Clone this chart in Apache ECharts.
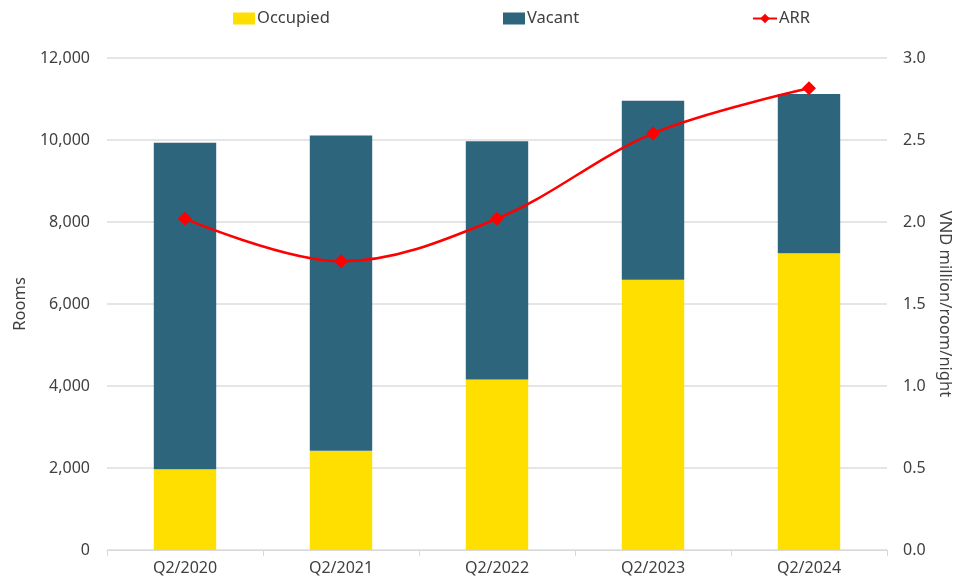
<!DOCTYPE html>
<html><head><meta charset="utf-8">
<script src="https://cdn.jsdelivr.net/npm/echarts@6/dist/echarts.min.js"></script>
<style>html,body{margin:0;padding:0;background:#fff}#c{width:959px;height:584px}</style>
</head><body><div id="c"></div>
<script>
const categories = ['Q2/2020','Q2/2021','Q2/2022','Q2/2023','Q2/2024'];
const occupied = [1970, 2420, 4160, 6590, 7240];
const vacant = [7960, 7690, 5810, 4370, 3880];
const arr = [2.02, 1.76, 2.02, 2.54, 2.815];
const leftTicks = {min:0, max:12000, interval:2000};
const rightTicks = {min:0, max:3, interval:0.5};

const FONT = 'Noto Sans';
const TXT = '#404040';
const chart = echarts.init(document.getElementById('c'), null, {renderer:'canvas'});
const legTxt = {fontSize:16.5,color:TXT,fontFamily:FONT,padding:[0,0,0,-3]};
chart.setOption({
  animation:false,
  textStyle:{fontFamily:FONT, color:TXT},
  legend:[
    {left:228, top:5, itemWidth:22, itemHeight:12, itemGap:0, textStyle:legTxt, data:[{name:'Occupied', icon:'rect'}]},
    {left:498, top:5, itemWidth:22, itemHeight:12, itemGap:0, textStyle:legTxt, data:[{name:'Vacant', icon:'rect'}]},
    {left:747, top:5, itemWidth:24, itemHeight:12, itemGap:0, textStyle:legTxt, data:[{name:'ARR'}]}
  ],
  grid:{left:107, right:72, top:58, bottom:34, containLabel:false, outerBoundsMode:'none'},
  xAxis:{type:'category', data:categories,
    axisLine:{lineStyle:{color:'#d9d9d9', width:1}},
    axisTick:{show:true, alignWithLabel:false, length:6, lineStyle:{color:'#d9d9d9'}},
    axisLabel:{color:TXT, fontSize:16, margin:10, fontFamily:FONT}},
  yAxis:[
    {type:'value', min:leftTicks.min, max:leftTicks.max, interval:leftTicks.interval,
     name:'Rooms', nameLocation:'middle', nameRotate:90, nameGap:76,
     nameTextStyle:{color:TXT, fontSize:16.5, fontFamily:FONT},
     axisLabel:{color:TXT, fontSize:16, margin:17, fontFamily:FONT,
       formatter:v=>v.toLocaleString('en-US')},
     splitLine:{lineStyle:{color:'#dcdcdc', width:1.5}},
     axisLine:{show:false}, axisTick:{show:false}},
    {type:'value', min:rightTicks.min, max:rightTicks.max, interval:rightTicks.interval,
     name:'VND million/room/night', nameLocation:'middle', nameRotate:-90, nameGap:48,
     nameTextStyle:{color:TXT, fontSize:16.5, fontFamily:FONT},
     axisLabel:{color:TXT, fontSize:16, margin:16, fontFamily:FONT, formatter:v=>v.toFixed(1)},
     splitLine:{show:false}, axisLine:{show:false}, axisTick:{show:false}}
  ],
  series:[
    {name:'Occupied', type:'bar', stack:'rooms', data:occupied, barWidth:'40%',
     itemStyle:{color:'#FFDF00'}},
    {name:'Vacant', type:'bar', stack:'rooms', data:vacant, barWidth:'40%',
     itemStyle:{color:'#2D657D'}},
    {name:'ARR', type:'line', yAxisIndex:1, data:arr, smooth:0.35,
     symbol:'diamond', symbolSize:14,
     lineStyle:{color:'#FF0000', width:2.5}, itemStyle:{color:'#FF0000'}}
  ]
});
</script></body></html>
